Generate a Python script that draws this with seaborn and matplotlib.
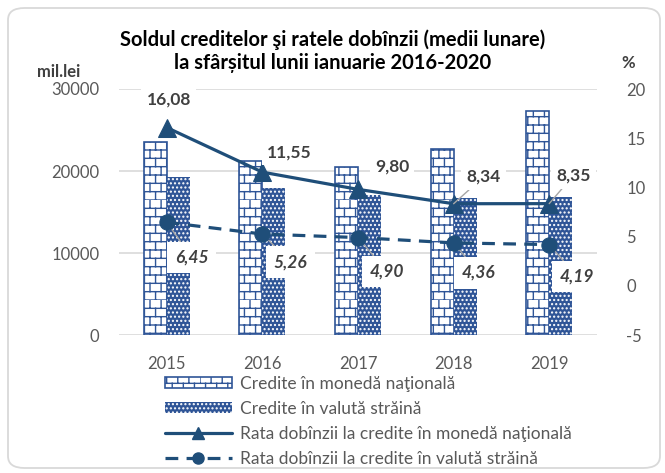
import numpy as np
import pandas as pd
import matplotlib
matplotlib.use("Agg")
import matplotlib.pyplot as plt
import matplotlib.hatch as mhatch
from matplotlib.path import Path
import seaborn as sns
from matplotlib.patches import FancyBboxPatch, Patch
from matplotlib.lines import Line2D

# ---- data ----
years = ["2015", "2016", "2017", "2018", "2019"]
credite_nat = [23500, 21200, 20500, 22700, 27300]
credite_val = [19300, 17900, 17100, 16700, 16800]
rata_nat = [16.08, 11.55, 9.80, 8.34, 8.35]
rata_val = [6.45, 5.26, 4.90, 4.36, 4.19]
series_names = ["Credite în monedă naţională", "Credite în valută străină",
                "Rata dobînzii la credite în monedă naţională",
                "Rata dobînzii la credite în valută străină"]
title_lines = ["Soldul creditelor şi ratele dobînzii (medii lunare)",
               "la sfârșitul lunii ianuarie 2016-2020"]
left_ticks = [0, 10000, 20000, 30000]
right_ticks = [-5, 0, 5, 10, 15, 20]


# ---- brick hatch pattern (replaces the large-circle 'O' hatch) ----
class Bricks(mhatch.HatchPatternBase):
    def __init__(self, hatch, density):
        k = hatch.count("O")
        self.rows = 12 if k else 0
        self.cols = 9
        self.num_vertices = self.rows * 2 + self.rows * self.cols * 2

    def set_vertices_and_codes(self, vertices, codes):
        i = 0
        for r in range(self.rows):
            y0 = r / self.rows
            y1 = (r + 1) / self.rows
            vertices[i] = (0.0, y0); codes[i] = Path.MOVETO; i += 1
            vertices[i] = (1.0, y0); codes[i] = Path.LINETO; i += 1
            for c in range(self.cols):
                x = (c + 0.5 * (r % 2)) / self.cols
                vertices[i] = (x, y0); codes[i] = Path.MOVETO; i += 1
                vertices[i] = (x, y1); codes[i] = Path.LINETO; i += 1


BRICK = "++"
try:
    mhatch._hatch_types = [t for t in mhatch._hatch_types
                           if t is not mhatch.LargeCircles] + [Bricks]
    BRICK = "O"
except Exception:
    BRICK = "++"

# ---- style ----
sns.set_theme(style="white")
plt.rcParams["font.family"] = ["Lato", "DejaVu Sans"]
plt.rcParams["hatch.linewidth"] = 1.0
NAVY = "#1F4E79"
BLUE = "#2F5597"
GRAY = "#595959"
LBL = "#404040"
LW = 2.3
DASH = (0, (4, 2.6))

fig = plt.figure(figsize=(6.65, 4.73), dpi=100)
W, H = 665, 473
ax = fig.add_axes([119 / W, 1 - 335 / H, (597 - 119) / W, (335 - 89) / H])

df = pd.DataFrame({
    "an": years * 2,
    "val": credite_nat + credite_val,
    "serie": [series_names[0]] * len(years) + [series_names[1]] * len(years),
})
sns.barplot(data=df, x="an", y="val", hue="serie", order=years,
            hue_order=series_names[:2], palette=["white", BLUE],
            width=0.48, gap=0, dodge=True, ax=ax, legend=False, zorder=2)
n = len(years)
for i, p in enumerate(ax.patches[:2 * n]):
    if i < n:
        p.set_facecolor("white")
        p.set_edgecolor(BLUE)
        p.set_hatch(BRICK)
        p.set_linewidth(1.2)
    else:
        p.set_facecolor(BLUE)
        p.set_edgecolor("white")
        p.set_hatch("....")
        p.set_linewidth(0)

ax.set_ylim(0, 30000)
ax.set_yticks(left_ticks)
ax.set_yticklabels([str(t) for t in left_ticks])
ax.set_xlim(-0.5, n - 0.5)
ax.grid(axis="y", color="#D9D9D9", linewidth=1.2, zorder=0)
ax.set_axisbelow(True)
for s in ax.spines.values():
    s.set_visible(False)
ax.tick_params(axis="both", length=0, labelsize=12, labelcolor=GRAY)
ax.tick_params(axis="y", pad=14)
ax.tick_params(axis="x", pad=15)
ax.set_xlabel("")
ax.set_ylabel("")

ax2 = ax.twinx()
pos = np.arange(n)
sns.lineplot(x=pos, y=rata_nat, ax=ax2, color=NAVY, linewidth=LW,
             marker="^", markersize=13, markeredgecolor=NAVY, sort=False,
             zorder=4)
sns.lineplot(x=pos, y=rata_val, ax=ax2, color=NAVY, linewidth=LW,
             marker="o", markersize=11, markeredgecolor=NAVY, sort=False,
             linestyle=DASH, zorder=4)
ax2.set_ylim(-5, 20)
ax2.set_yticks(right_ticks)
ax2.set_yticklabels([str(t) for t in right_ticks])
ax2.set_xlim(-0.5, n - 0.5)
for s in ax2.spines.values():
    s.set_visible(False)
ax2.tick_params(axis="y", length=0, labelsize=12, labelcolor=GRAY, pad=21)
ax2.set_ylabel("")
ax.set_xticks(pos)
ax.set_xticklabels(years)

fmt = lambda v: f"{v:.2f}".replace(".", ",")
off_nat = [(2, 28), (27, 20), (34, 23), (30, 27), (24, 28)]
lead_nat = [False, False, False, True, True]
for i, v in enumerate(rata_nat):
    ax2.annotate(fmt(v), xy=(i, v), xytext=off_nat[i], textcoords="offset pixels",
                 ha="center", va="center", fontsize=12.5, fontweight="bold",
                 color=LBL, zorder=6,
                 bbox=dict(boxstyle="square,pad=0.3", fc="white", ec="none"),
                 arrowprops=dict(arrowstyle="-", color="#A6A6A6", lw=1,
                                 shrinkA=0, shrinkB=0) if lead_nat[i] else None)
off_val = [(25, -35), (28, -28), (29, -34), (25, -30), (28, -32)]
for i, v in enumerate(rata_val):
    ax2.annotate(fmt(v), xy=(i, v), xytext=off_val[i], textcoords="offset pixels",
                 ha="center", va="center", fontsize=12.5, fontweight="bold",
                 fontstyle="italic", color=LBL, zorder=3,
                 bbox=dict(boxstyle="square,pad=0.45", fc="white", ec="none"),
                 arrowprops=dict(arrowstyle="-", color="#A6A6A6", lw=1,
                                 shrinkA=0, shrinkB=0))

# titles & axis units
fig.text(0.5, 1 - 40 / H, title_lines[0], ha="center", va="center",
         fontsize=14.5, fontweight="bold", color="black")
fig.text(0.5, 1 - 63 / H, title_lines[1], ha="center", va="center",
         fontsize=14.5, fontweight="bold", color="black")
fig.text(59 / W, 1 - 72 / H, "mil.lei", ha="center", va="center",
         fontsize=12, fontweight="bold", color=LBL)
fig.text(628 / W, 1 - 63 / H, "%", ha="center", va="center",
         fontsize=12, fontweight="bold", color=LBL)

# legend
handles = [
    Patch(facecolor="white", edgecolor=BLUE, hatch=BRICK, linewidth=1.2),
    Patch(facecolor=BLUE, edgecolor="white", hatch="....", linewidth=0),
    Line2D([], [], color=NAVY, lw=LW, marker="^", markersize=9),
    Line2D([], [], color=NAVY, lw=LW, marker="o", markersize=8,
           linestyle=DASH),
]
fig.legend(handles, series_names, loc="upper left",
           bbox_to_anchor=(165 / W, 1 - 376 / H), frameon=False,
           fontsize=12.5, handlelength=3.85, handleheight=0.6,
           handletextpad=0.45, labelspacing=0.52, labelcolor=GRAY,
           borderpad=0, borderaxespad=0)

# outer rounded border
fig.patches.append(FancyBboxPatch((8 / W, 5 / H), (652 / W), (460 / H),
                                  boxstyle="round,pad=0,rounding_size=0.025",
                                  transform=fig.transFigure, fc="none",
                                  ec="#D9D9D9", lw=1.3))

fig.savefig("out.png", dpi=100)
